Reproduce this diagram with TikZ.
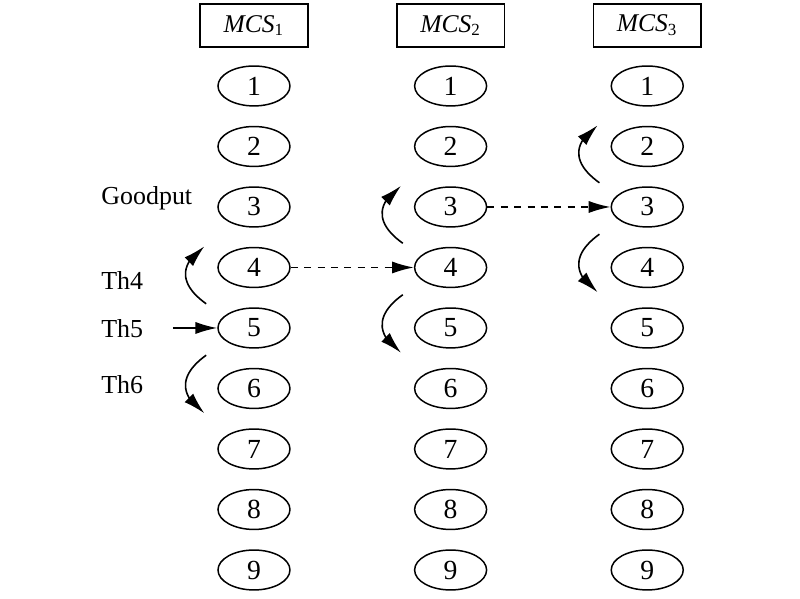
\documentclass[tikz,border=0pt]{standalone}
\usepackage{fontspec}
\setmainfont{Liberation Serif}
\usepackage{tikz}
\usetikzlibrary{arrows.meta,bending,shapes.geometric,calc}

\begin{document}
\begin{tikzpicture}[
    level/.style={draw,ellipse,line width=0.7pt,minimum width=1.19cm,minimum height=0.66cm,inner sep=0pt,font=\fontsize{13}{15}\selectfont},
    mcsbox/.style={draw,rectangle,line width=0.7pt,minimum width=1.78cm,minimum height=0.71cm,inner sep=0pt,font=\fontsize{12}{14}\selectfont},
    lbl/.style={anchor=base west,inner sep=0pt,font=\fontsize{12.2}{14}\selectfont},
    move/.style={line width=0.75pt,-{Latex[length=3.6mm,width=2mm,flex]}},
    jump/.style={move,dash pattern=on 3.3pt off 3pt}
]
    \useasboundingbox (-4.198,-0.463) rectangle (9.025,9.421);

    % headers
    \node[mcsbox] (mcsa) at (0,9) {\textit{MCS}\textsubscript{1}};
    \node[mcsbox] (mcsb) at (3.25,9) {\textit{MCS}\textsubscript{2}};
    \node[mcsbox] (mcsc) at (6.5,9) {\textit{MCS}\textsubscript{3}};

    % first column
    \node[level] (a1) at (0,8) {1};
    \node[level] (a2) at (0,7) {2};
    \node[level] (a3) at (0,6) {3};
    \node[level] (a4) at (0,5) {4};
    \node[level] (a5) at (0,4) {5};
    \node[level] (a6) at (0,3) {6};
    \node[level] (a7) at (0,2) {7};
    \node[level] (a8) at (0,1) {8};
    \node[level] (a9) at (0,0) {9};

    % second column
    \node[level] (b1) at (3.25,8) {1};
    \node[level] (b2) at (3.25,7) {2};
    \node[level] (b3) at (3.25,6) {3};
    \node[level] (b4) at (3.25,5) {4};
    \node[level] (b5) at (3.25,4) {5};
    \node[level] (b6) at (3.25,3) {6};
    \node[level] (b7) at (3.25,2) {7};
    \node[level] (b8) at (3.25,1) {8};
    \node[level] (b9) at (3.25,0) {9};

    % third column
    \node[level] (c1) at (6.5,8) {1};
    \node[level] (c2) at (6.5,7) {2};
    \node[level] (c3) at (6.5,6) {3};
    \node[level] (c4) at (6.5,5) {4};
    \node[level] (c5) at (6.5,4) {5};
    \node[level] (c6) at (6.5,3) {6};
    \node[level] (c7) at (6.5,2) {7};
    \node[level] (c8) at (6.5,1) {8};
    \node[level] (c9) at (6.5,0) {9};

    % labels
    \node[lbl] (goodput) at (-2.529,6.033) {Goodput};
    \node[lbl] (th4) at (-2.529,4.628) {Th4};
    \node[lbl] (th5) at (-2.529,3.851) {Th5};
    \node[lbl] (th6) at (-2.529,2.909) {Th6};

    % arrow ends
    \coordinate (th5start) at (-1.339,4);
    \coordinate (upa0) at ($(a5)+(-0.79,0.40)$);
    \coordinate (upa1) at ($(a4)+(-0.82,0.35)$);
    \coordinate (dna0) at ($(a5)+(-0.79,-0.45)$);
    \coordinate (dna1) at ($(a6)+(-0.82,-0.41)$);
    \coordinate (upb0) at ($(b4)+(-0.79,0.40)$);
    \coordinate (upb1) at ($(b3)+(-0.82,0.35)$);
    \coordinate (dnb0) at ($(b4)+(-0.79,-0.45)$);
    \coordinate (dnb1) at ($(b5)+(-0.82,-0.41)$);
    \coordinate (upc0) at ($(c3)+(-0.79,0.40)$);
    \coordinate (upc1) at ($(c2)+(-0.82,0.35)$);
    \coordinate (dnc0) at ($(c3)+(-0.79,-0.45)$);
    \coordinate (dnc1) at ($(c4)+(-0.82,-0.41)$);

    \draw[move] (th5start) -- (a5);
    \draw[move] (upa0) .. controls +(-0.42,0.3) and +(-0.45,-0.32) .. (upa1);
    \draw[move] (dna0) .. controls +(-0.42,-0.3) and +(-0.45,0.32) .. (dna1);
    \draw[move] (upb0) .. controls +(-0.42,0.3) and +(-0.45,-0.32) .. (upb1);
    \draw[move] (dnb0) .. controls +(-0.42,-0.3) and +(-0.45,0.32) .. (dnb1);
    \draw[move] (upc0) .. controls +(-0.42,0.3) and +(-0.45,-0.32) .. (upc1);
    \draw[move] (dnc0) .. controls +(-0.42,-0.3) and +(-0.45,0.32) .. (dnc1);

    \draw[jump] (a4) -- (b4);
    \draw[jump] (b3) -- (c3);

\end{tikzpicture}
\end{document}
